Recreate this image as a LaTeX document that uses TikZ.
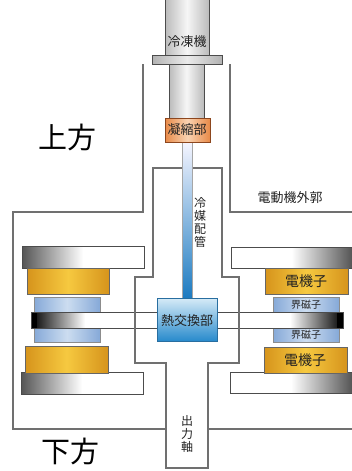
\documentclass[tikz,border=0pt]{standalone}
\usepackage{fontspec}
\newfontfamily\jp{Noto Sans CJK JP}
\definecolor{wall}{HTML}{707070}
\definecolor{ink}{HTML}{222222}
\definecolor{gold1}{HTML}{D6941C}
\definecolor{gold2}{HTML}{F6C940}
\definecolor{field1}{HTML}{86A9D8}
\definecolor{field2}{HTML}{CCDDF0}
\definecolor{metal1}{HTML}{BBBBBB}
\definecolor{metal2}{HTML}{F6F6F6}
\definecolor{cond1}{HTML}{E88A48}
\definecolor{cond2}{HTML}{F9D3B2}
\definecolor{steel}{HTML}{555555}
\begin{document}
\begin{tikzpicture}[x=1pt,y=-1pt,
  wallline/.style={draw=wall,line width=1.1pt},
  partedge/.style={draw=black!70,line width=0.8pt},
  armature/.style={left color=gold1,right color=gold1,middle color=gold2,draw=black!60,line width=0.8pt},
  fieldpole/.style={left color=field1,right color=field1,middle color=field2,draw=black!45,line width=0.7pt},
  metalbody/.style={left color=metal1,right color=metal1,middle color=metal2,draw=black!70,line width=0.8pt},
  label/.style={font=\jp\fontsize{13}{14}\selectfont,text=ink,inner sep=0pt},
  small/.style={font=\jp\fontsize{10}{11}\selectfont,text=ink,inner sep=0pt},
  big/.style={font=\jp\fontsize{29}{30}\selectfont,text=black,inner sep=0pt},
  vlabel/.style={font=\jp\fontsize{12}{13}\selectfont,text=ink,inner sep=0pt,align=center}]
\useasboundingbox (0,0) rectangle (352,471);
\fill[white] (0,0) rectangle (352,471);

% motor housing (outer casing)
\draw[wallline] (143,64) -- (143,212) -- (13,212) -- (13,429) -- (166,429);
\draw[wallline] (230,64) -- (230,212) -- (352,212);
\draw[wallline] (208,429) -- (352,429);

% stator yokes: dark at the outer end, fading to white halfway
\foreach \ya/\yb/\xa/\xb in {246/268/22/144, 372/394/21/143} {
  \shade[left color=steel,right color=white] (\xa,\ya) rectangle ({(\xa+\xb)/2},\yb);
  \draw[partedge] (\xa,\ya) rectangle (\xb,\yb);
}
\foreach \ya/\yb/\xa/\xb in {247/268/231/352, 372/393/230/352} {
  \shade[left color=white,right color=steel] ({(\xa+\xb)/2},\ya) rectangle (\xb,\yb);
  \draw[partedge] (\xa,\ya) rectangle (\xb,\yb);
}

% armatures and field poles
\path[armature] (27,268) rectangle (109,294);
\path[fieldpole] (34,297) rectangle (100,342);
\path[armature] (25,346) rectangle (108,373);
\path[armature] (265,268) rectangle (348,294);
\path[fieldpole] (273,297) rectangle (339,342);
\path[armature] (264,347) rectangle (347,373);

% rotor disc
\fill[white] (31,312) rectangle (160,328);
\shade[left color=black,right color=white] (31,312) rectangle (85,328);
\fill[black] (31,312) rectangle (37,328);
\draw[partedge] (31,312) rectangle (160,328);
\fill[white] (215,312) rectangle (343,328);
\shade[left color=white,right color=black] (290,312) rectangle (343,328);
\fill[black] (337,312) rectangle (343,328);
\draw[partedge] (215,312) rectangle (343,328);

% inner cold chamber and output shaft
\draw[wallline] (166,468) -- (166,363) -- (135,363) -- (135,277) -- (153,277)
  -- (153,168) -- (222,168) -- (222,277) -- (239,277) -- (239,363)
  -- (208,363) -- (208,468) -- cycle;

% cryocooler
\path[metalbody] (165,-1) rectangle (209,55);
\path[metalbody] (169,64) rectangle (204,118);
\path[left color=black!30,right color=black!30,middle color=black!8,draw=black!70,line width=0.8pt] (152,55) rectangle (222,64);

% refrigerant pipe
\path[top color=blue!4!white,bottom color={rgb,255:red,27;green,122;blue,192},draw=black!35,line width=0.5pt] (182,142) rectangle (192,299);

% condenser
\path[left color=cond1,right color=cond1,middle color=cond2,draw={rgb,255:red,140;green,70;blue,30},line width=0.9pt] (165,118) rectangle (210,142);

% heat exchanger
\path[top color={rgb,255:red,214;green,235;blue,247},bottom color={rgb,255:red,40;green,138;blue,204},draw={rgb,255:red,40;green,110;blue,160},line width=0.8pt] (157,298) rectangle (217,341);

% labels
\node[label] (cooler) at (187,42) {冷凍機};
\node[label] (condenser) at (187,130) {凝縮部};
\node[label] (exchanger) at (187,321) {熱交換部};
\node[label] (casing) at (290,198) {電動機外郭};
\node[vlabel] (pipe) at (200,222) {冷\\媒\\配\\管};
\node[vlabel] (shaft) at (187,434) {出\\力\\軸};
\node[label,font=\jp\fontsize{14}{15}\selectfont] (armtop) at (306,281) {電機子};
\node[label,font=\jp\fontsize{14}{15}\selectfont] (armbot) at (305,360) {電機子};
\node[small] (fieldtop) at (306,305) {界磁子};
\node[small] (fieldbot) at (306,335) {界磁子};
\node[big] (upper) at (67,137) {上方};
\node[big] (lower) at (70,451) {下方};
\end{tikzpicture}
\end{document}
